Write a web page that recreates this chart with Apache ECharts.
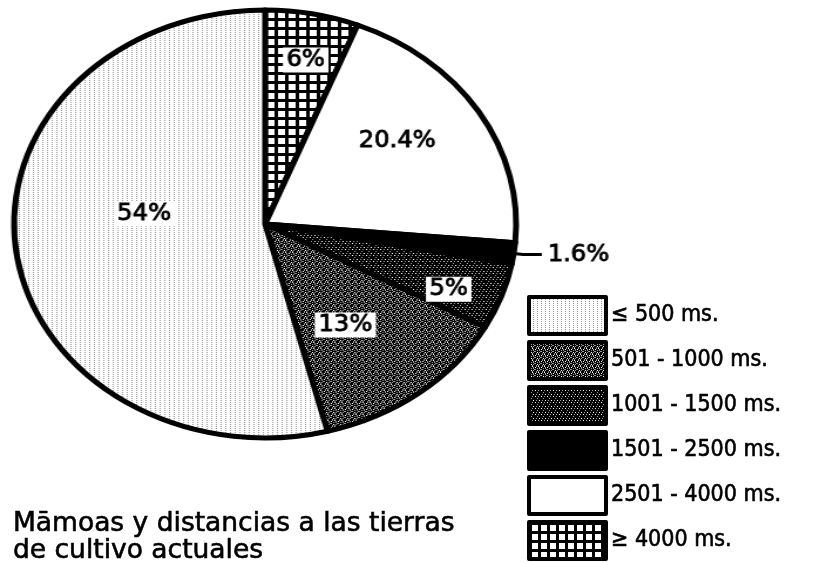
<!DOCTYPE html>
<html>
<head>
    <meta charset="utf-8">
    <title>mamoas</title>
    <style>
        body { margin: 0; background: #fff; }
        #pie {
            position: absolute; left: 0; top: 0;
            width: 700px; height: 563px;
            transform: scaleX(1.173);
            transform-origin: 0 0;
        }
        #legend { position: absolute; left: 0; top: 0; width: 822px; height: 563px; }
    </style>
    <script src="https://cdn.jsdelivr.net/npm/echarts@6/dist/echarts.min.js"></script>
</head>
<body>
<div id="pie"></div>
<div id="legend"></div>
<script>
    // slices clockwise from 12 o'clock
    const categories = ['≥ 4000 ms.', '2501 - 4000 ms.', '1501 - 2500 ms.', '1001 - 1500 ms.', '501 - 1000 ms.', '≤ 500 ms.'];
    const shares = [6, 20.4, 1.6, 5, 13, 54];
    const legendOrder = ['≤ 500 ms.', '501 - 1000 ms.', '1001 - 1500 ms.', '1501 - 2500 ms.', '2501 - 4000 ms.', '≥ 4000 ms.'];
    const titleText = 'Māmoas y distancias a las tierras\nde cultivo actuales';

    // label nudges (px, before the horizontal stretch)
    const labelShift = [[14, -56], [19, -25], [0, 0], [53, 28], [1, 14], [6, -24]];

    const FONT = 'DejaVu Sans Condensed';

    function tile(rows, palette) {
        const c = document.createElement('canvas');
        c.width = rows[0].length;
        c.height = rows.length;
        const ctx = c.getContext('2d');
        rows.forEach(function (r, y) {
            for (let x = 0; x < r.length; x++) {
                ctx.fillStyle = palette[r[x]];
                ctx.fillRect(x, y, 1, 1);
            }
        });
        return {image: c, repeat: 'repeat'};
    }
    const pal = {'0': '#ffffff', '1': '#9a9a9a', '2': '#000000'};

    const fills = [
        tile(['222222222', '222222222', '222222222', '222000000', '222000000', '222000000', '222000000', '222000000', '222000000'], pal),
        '#ffffff',
        '#000000',
        tile(['222222', '212202', '222222', '022122', '222222', '221222'], pal),
        tile(['212022', '022212', '221212', '122221', '220212', '212122'], pal),
        tile(['1000', '0000', '1000', '0000'], pal)
    ];

    const pieData = categories.map(function (name, i) {
        const item = {
            name: name,
            value: shares[i],
            itemStyle: {color: fills[i]},
            label: {offset: labelShift[i]}
        };
        if (shares[i] < 3) {
            item.label = {
                position: 'outside',
                backgroundColor: 'transparent',
                padding: 0
            };
            item.labelLine = {show: true, length: 8, length2: 16, lineStyle: {color: '#000', width: 3}};
        }
        return item;
    });

    echarts.init(document.getElementById('pie')).setOption({
        animation: false,
        series: [{
            type: 'pie',
            center: [226, 224],
            radius: 214,
            startAngle: 90,
            clockwise: true,
            avoidLabelOverlap: false,
            silent: true,
            itemStyle: {borderColor: '#000', borderWidth: 5},
            label: {
                show: true,
                position: 'inside',
                formatter: function (p) { return p.value + '%'; },
                fontFamily: FONT,
                fontSize: 23,
                color: '#000',
                textBorderColor: '#000',
                textBorderWidth: 0.8,
                backgroundColor: '#fff',
                padding: [2, 3, 0, 3]
            },
            labelLine: {show: false},
            data: pieData
        }]
    });

    echarts.init(document.getElementById('legend')).setOption({
        animation: false,
        title: {
            text: titleText,
            left: 13,
            top: 511,
            padding: 0,
            textStyle: {
                fontFamily: 'DejaVu Sans', fontSize: 26.5, fontWeight: 'normal', color: '#000', lineHeight: 27,
                textBorderColor: '#000', textBorderWidth: 0.6
            }
        },
        legend: {
            orient: 'vertical',
            left: 527,
            top: 295,
            height: 268,
            padding: 0,
            itemWidth: 77,
            itemHeight: 37,
            itemGap: 4,
            icon: 'rect',
            selectedMode: false,
            itemStyle: {borderColor: '#000', borderWidth: 4},
            textStyle: {fontFamily: FONT, fontSize: 23, color: '#000', textBorderColor: '#000', textBorderWidth: 0.6},
            data: legendOrder
        },
        series: [{
            type: 'pie',
            center: [-200, -200],
            radius: 5,
            silent: true,
            label: {show: false},
            labelLine: {show: false},
            data: categories.map(function (name, i) {
                return {name: name, value: shares[i], itemStyle: {color: fills[i]}};
            })
        }]
    });
</script>
</body>
</html>
